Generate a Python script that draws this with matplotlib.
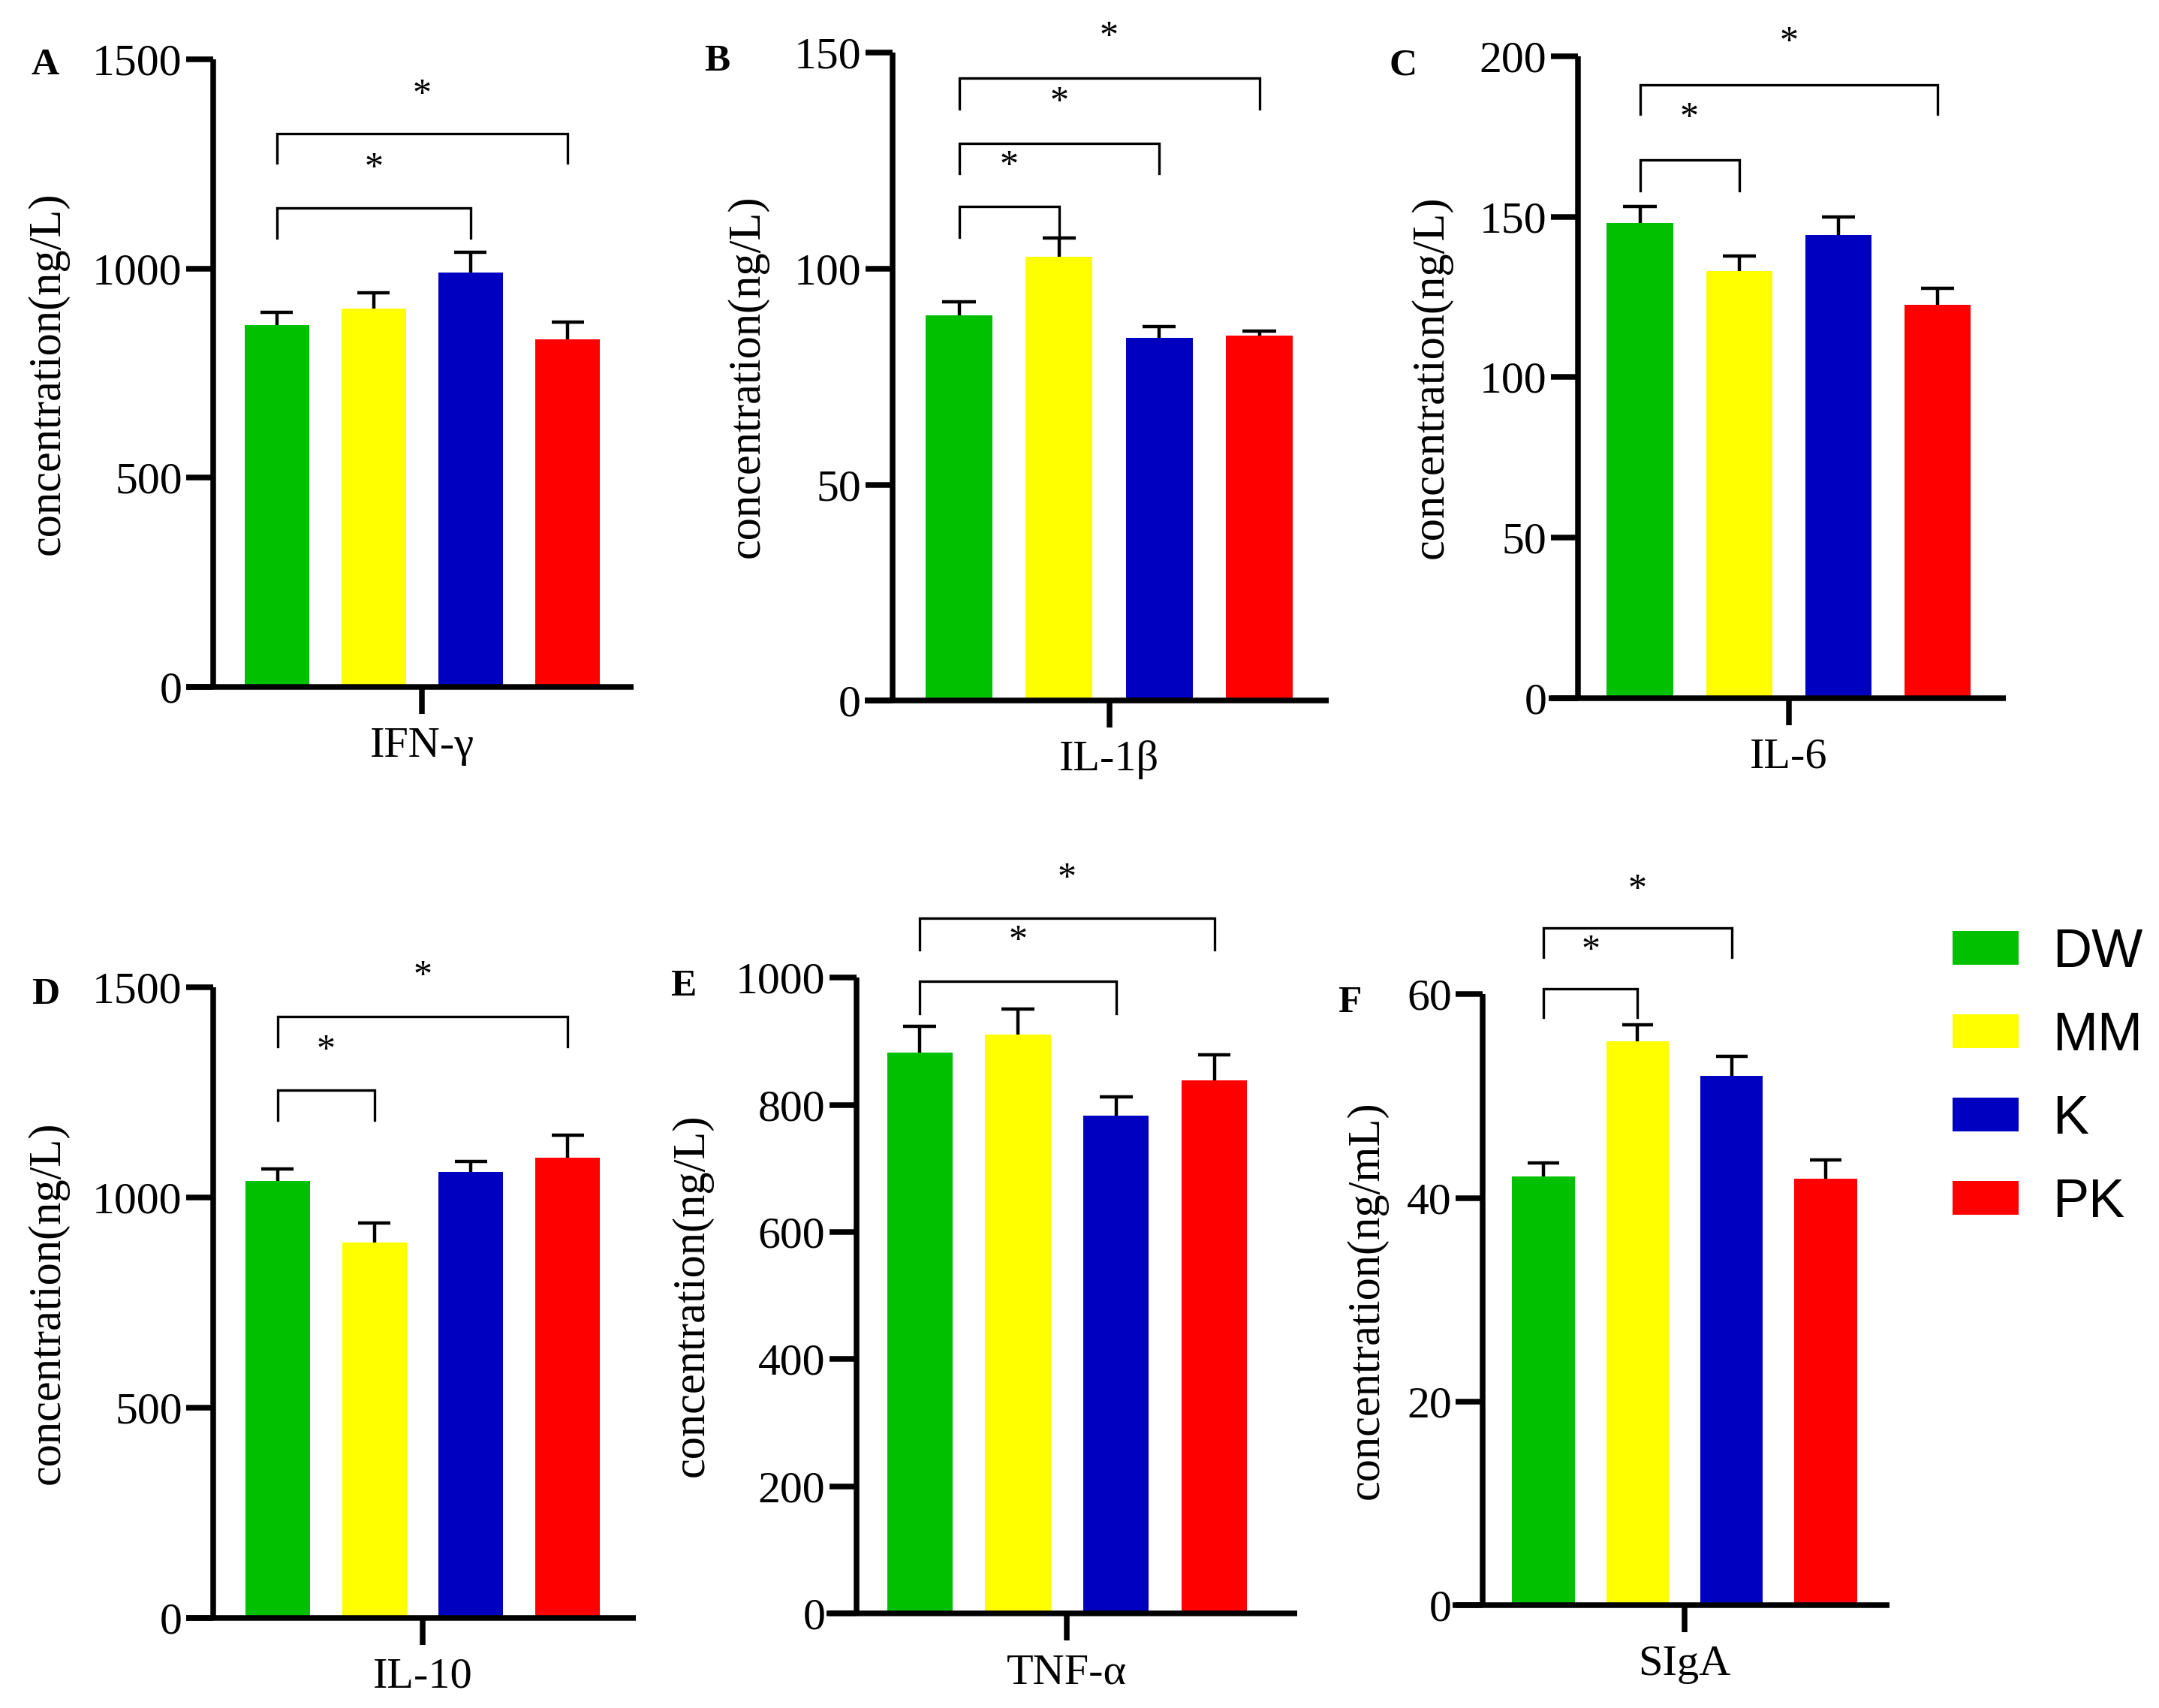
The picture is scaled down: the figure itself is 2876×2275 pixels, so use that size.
import matplotlib
matplotlib.use('Agg')
import matplotlib.pyplot as plt
from matplotlib.patches import Patch

# ---------------- data ----------------
groups = ['DW', 'MM', 'K', 'PK']
colors = ['#00C000', '#FFFF00', '#0000C0', '#FF0000']

cytokines = ['IFN-γ', 'IL-1β', 'IL-6', 'IL-10', 'TNF-α', 'SIgA']
panel_letters = ['A', 'B', 'C', 'D', 'E', 'F']
ylabels = ['concentration(ng/L)'] * 5 + ['concentration(ng/mL)']

ifng_mean = [865, 904, 990, 831]
ifng_err = [30, 38, 49, 41]
il1b_mean = [89.2, 102.7, 84.0, 84.5]
il1b_err = [3.1, 4.3, 2.6, 1.1]
il6_mean = [148.0, 133.0, 144.4, 122.6]
il6_err = [5.2, 4.7, 5.6, 5.2]
il10_mean = [1040, 893, 1060, 1095]
il10_err = [27, 46, 25, 53]
tnfa_mean = [882, 910, 783, 839]
tnfa_err = [41, 40, 29, 39]
siga_mean = [42.1, 55.4, 52.0, 41.9]
siga_err = [1.3, 1.6, 1.9, 1.85]

ifng_ticks = [0, 500, 1000, 1500]
il1b_ticks = [0, 50, 100, 150]
il6_ticks = [0, 50, 100, 150, 200]
il10_ticks = [0, 500, 1000, 1500]
tnfa_ticks = [0, 200, 400, 600, 800, 1000]
siga_ticks = [0, 20, 40, 60]

# significance brackets: (group i, group j, bracket y, leg end y, star y)
ifng_sig = [(0, 2, 1145, 1072, 1259), (0, 3, 1323, 1253, 1434)]
il1b_sig = [(0, 1, 114.4, 107.3, 125.6), (0, 2, 128.9, 122.0, 140.4), (0, 3, 144.0, 136.9, 155.5)]
il6_sig = [(0, 1, 167.7, 158.2, 183.4), (0, 3, 191.2, 182.1, 206.9)]
il10_sig = [(0, 1, 1255, 1184, 1368), (0, 3, 1431, 1359, 1546)]
tnfa_sig = [(0, 2, 994, 944, 1071), (0, 3, 1093, 1044, 1168)]
siga_sig = [(0, 1, 60.5, 57.7, 65.1), (0, 2, 66.5, 63.6, 71.0)]

means = [ifng_mean, il1b_mean, il6_mean, il10_mean, tnfa_mean, siga_mean]
errs = [ifng_err, il1b_err, il6_err, il10_err, tnfa_err, siga_err]
ticks = [ifng_ticks, il1b_ticks, il6_ticks, il10_ticks, tnfa_ticks, siga_ticks]
sigs = [ifng_sig, il1b_sig, il6_sig, il10_sig, tnfa_sig, siga_sig]

# ---------------- layout (reference display units 1568 x 1240.5) ----------------
W, H = 1568.0, 1240.5
# yaxis_x, x_right, y0, ytop, first bar center, spacing, x-axis left end, ylabel right, letter x, letter baseline
layout = [
    (155, 460, 499, 43, 201.0, 70.4, 135, 50, 33, 54),
    (648, 965, 509, 38, 696.5, 72.7, 628, 558, 521, 51),
    (1146, 1457, 507, 41, 1191.0, 72.0, 1125, 1055, 1019, 54),
    (155, 462, 1175, 717, 201.5, 70.3, 135, 50, 33, 729),
    (622, 942, 1172, 710, 668.0, 71.3, 600, 518, 496, 723),
    (1077, 1372, 1166, 722, 1121.0, 68.3, 1055, 1008, 980, 735),
]

serif = ['Liberation Serif', 'DejaVu Serif']
plt.rcParams['font.family'] = serif

fig = plt.figure(figsize=(14.38, 11.375), dpi=200)

bw = 0.667
AXLW = 2.7
for k in range(6):
    yx, xr, y0, yt, c0, sp, xl, ylr, lx, ly = layout[k]
    left = xl / W
    bottom = 1 - y0 / H
    width = (xr - xl) / W
    height = (y0 - yt) / H
    ax = fig.add_axes([left, bottom, width, height])
    xs = list(range(4))
    ax.bar(xs, means[k], width=bw, color=colors, edgecolor='none', zorder=2)
    ax.vlines(xs, means[k], [m + e for m, e in zip(means[k], errs[k])],
              color='black', lw=1.6, zorder=1)
    ax.hlines([m + e for m, e in zip(means[k], errs[k])],
              [x - bw / 4 for x in xs], [x + bw / 4 for x in xs],
              color='black', lw=1.6, zorder=3)
    ax.set_xlim((xl - c0) / sp, (xr - c0) / sp)
    ax.set_ylim(0, ticks[k][-1])
    ax.spines['left'].set_position(('data', (yx - c0) / sp))
    for s in ['top', 'right']:
        ax.spines[s].set_visible(False)
    for s in ['left', 'bottom']:
        ax.spines[s].set_linewidth(AXLW)
        ax.spines[s].set_capstyle('butt')
    ax.set_yticks(ticks[k])
    ax.set_yticklabels([str(t) for t in ticks[k]])
    ax.set_xticks([1.5])
    ax.set_xticklabels([cytokines[k]])
    ax.tick_params(axis='y', direction='out', length=13, width=AXLW, labelsize=21.5, pad=2)
    ax.tick_params(axis='x', direction='out', length=13, width=AXLW, labelsize=21, pad=6)
    ax.patch.set_alpha(0)
    ax.set_ylabel(ylabels[k], fontsize=21.8)
    ax.yaxis.set_label_coords((ylr - xl) / (xr - xl), 0.5)
    # significance
    for (i, j, yb, yl, ys) in sigs[k]:
        ax.plot([i, i, j, j], [yl, yb, yb, yl], color='black', lw=1.2,
                clip_on=False, solid_joinstyle='miter')
        ax.annotate('*', ((i + j) / 2, ys), xytext=(0, -8.5), textcoords='offset points',
                    ha='center', va='baseline', fontsize=18, annotation_clip=False)
    fig.text(lx / W, 1 - ly / H, panel_letters[k], fontsize=18.5, fontweight='bold',
             ha='center', va='baseline')

handles = [Patch(facecolor=c, edgecolor='none') for c in colors]
fig.legend(handles, groups, loc='upper left', bbox_to_anchor=(1418 / W, 1 - 674 / H),
           frameon=False, prop={'family': ['Liberation Sans', 'DejaVu Sans'], 'size': 26},
           handlelength=1.22, handleheight=0.58, labelspacing=0.61, handletextpad=0.62,
           borderpad=0, borderaxespad=0)

fig.savefig('out.png', dpi=200)
